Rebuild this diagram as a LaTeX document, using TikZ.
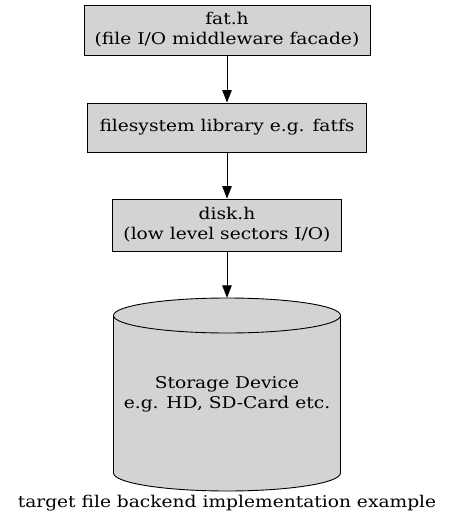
\documentclass[tikz,border=0pt]{standalone}
\usepackage{fontspec}
\setmainfont{DejaVu Serif}[FakeStretch=1.15]
\usetikzlibrary{arrows.meta}
\definecolor{boxgray}{HTML}{D3D3D3}
\tikzset{
  box/.style={draw=black, fill=boxgray, line width=0.9pt, align=center, inner sep=0pt,
    font=\fontsize{16.2}{20}\selectfont},
  conn/.style={draw=black, line width=0.9pt, -{Triangle[length=12.5pt,width=9.5pt]}},
  lbl/.style={align=center, inner sep=0pt, font=\fontsize{16.2}{20}\selectfont}
}
\begin{document}
\begin{tikzpicture}[x=1pt,y=1pt]
\useasboundingbox (0,0) rectangle (453,-527);
\node[box, minimum width=286pt, minimum height=50pt] (fat) at (227,-30) {fat.h\\(file I/O middleware facade)};
\node[box, minimum width=279pt, minimum height=49pt] (fs) at (227,-127.5) {filesystem library e.g. fatfs};
\node[box, minimum width=229pt, minimum height=52pt] (disk) at (227,-225) {disk.h\\(low level sectors I/O)};
% storage cylinder
\node[inner sep=0pt, minimum width=227pt, minimum height=193pt] (dev) at (227,-394.5) {};
\path[draw=black, fill=boxgray, line width=0.9pt]
  (113.5,-315.5) arc[start angle=180, end angle=0, x radius=113.5, y radius=17.5]
  -- (340.5,-473) arc[start angle=0, end angle=-180, x radius=113.5, y radius=18]
  -- cycle;
\draw[line width=0.9pt] (113.5,-315.5) arc[start angle=180, end angle=360, x radius=113.5, y radius=17.5];
\node[lbl] (devtext) at (227,-394) {Storage Device\\e.g. HD, SD-Card etc.};
\node[lbl] (caption) at (227,-503) {target file backend implementation example};
\draw[conn] (fat.south) -- (fs.north);
\draw[conn] (fs.south) -- (disk.north);
\draw[conn] (disk.south) -- (dev.north);
\end{tikzpicture}
\end{document}
